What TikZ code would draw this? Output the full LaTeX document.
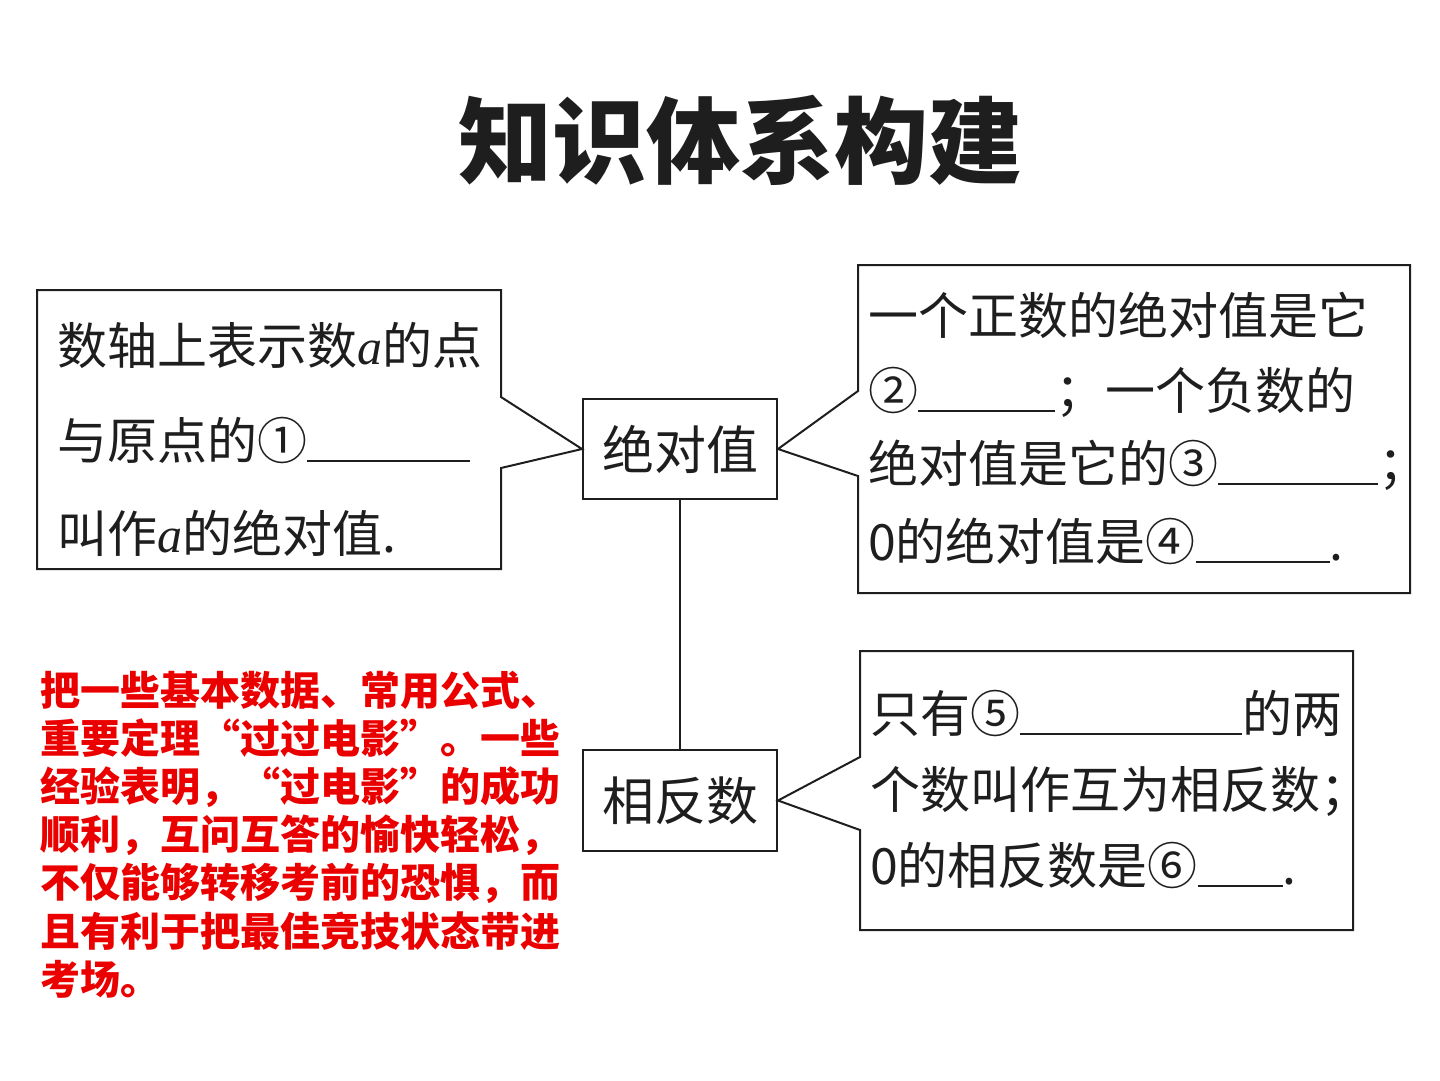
\documentclass[tikz,border=0pt]{standalone}
\usepackage{fontspec}
\setmainfont{Noto Sans CJK SC}
\newfontfamily\notefont[CharacterWidth=Full]{Noto Sans CJK SC}
\newfontfamily\latinserif{Liberation Serif}
\definecolor{ink}{RGB}{30,30,30}
\definecolor{notered}{RGB}{235,0,0}
\newcommand{\blankline}[1]{\rule[-3pt]{#1pt}{2pt}}
\newcommand{\vara}{{\latinserif\itshape a}}
\begin{document}
\begin{tikzpicture}[x=1pt,y=-1pt,
  box/.style={draw=ink, line width=2pt, inner sep=0pt, minimum width=194pt, minimum height=100pt, font=\fontsize{52}{60}\selectfont, text=ink},
  callout/.style={draw=ink, line width=2pt, line join=miter},
  body/.style={anchor=west, inner sep=0pt, font=\fontsize{50}{60}\selectfont, text=ink},
  note/.style={anchor=west, inner sep=0pt, font=\notefont\bfseries\fontsize{40}{48}\selectfont, text=notered},
  titlestyle/.style={inner sep=0pt, font=\bfseries\fontsize{94}{100}\selectfont, text=ink}]
\useasboundingbox (0,0) rectangle (1440,1080);
\node[titlestyle] (title) at (740,140) {知识体系构建};
\node[box] (jdz) at (680,449) {绝对值};
\node[box, minimum height=101pt] (xfs) at (680,800.5) {相反数};
\draw[callout] (jdz) -- (xfs);
\draw[callout] (37,290) -- (501,290) -- (501,397) -- (jdz.west) -- (501,468) -- (501,569) -- (37,569) -- cycle;
\draw[callout] (858,265) -- (1410,265) -- (1410,593) -- (858,593) -- (858,476) -- (jdz.east) -- (858,391) -- cycle;
\draw[callout] (860,651) -- (1353,651) -- (1353,930) -- (860,930) -- (860,830) -- (xfs.east) -- (860,757) -- cycle;
\node[body] (l1) at (57,345) {数轴上表示数\vara 的点};
\node[body] (l2) at (57,440) {与原点的①\blankline{163}};
\node[body] (l3) at (57,533) {叫作\vara 的绝对值.};
\node[body] (r1) at (868,315) {一个正数的绝对值是它};
\node[body] (r2) at (868,392) {②\blankline{137}；一个负数的};
\node[body] (r3) at (868,465) {绝对值是它的③\blankline{160}；};
\node[body] (r4) at (868,541) {0的绝对值是④\blankline{134}.};
\node[body] (b1) at (870,713) {只有⑤\blankline{222}的两};
\node[body] (b2) at (870,791) {个数叫作互为相反数；};
\node[body] (b3) at (870,865) {0的相反数是⑥\blankline{85}.};
\node[note] (n1) at (40,690) {把一些基本数据、常用公式、};
\node[note] (n2) at (40,738) {重要定理“过过电影”。一些};
\node[note] (n3) at (40,787) {经验表明，“过电影”的成功};
\node[note] (n4) at (40,835) {顺利，互问互答的愉快轻松，};
\node[note] (n5) at (40,883) {不仅能够转移考前的恐惧，而};
\node[note] (n6) at (40,931) {且有利于把最佳竞技状态带进};
\node[note] (n7) at (40,979) {考场。};
\end{tikzpicture}
\end{document}
